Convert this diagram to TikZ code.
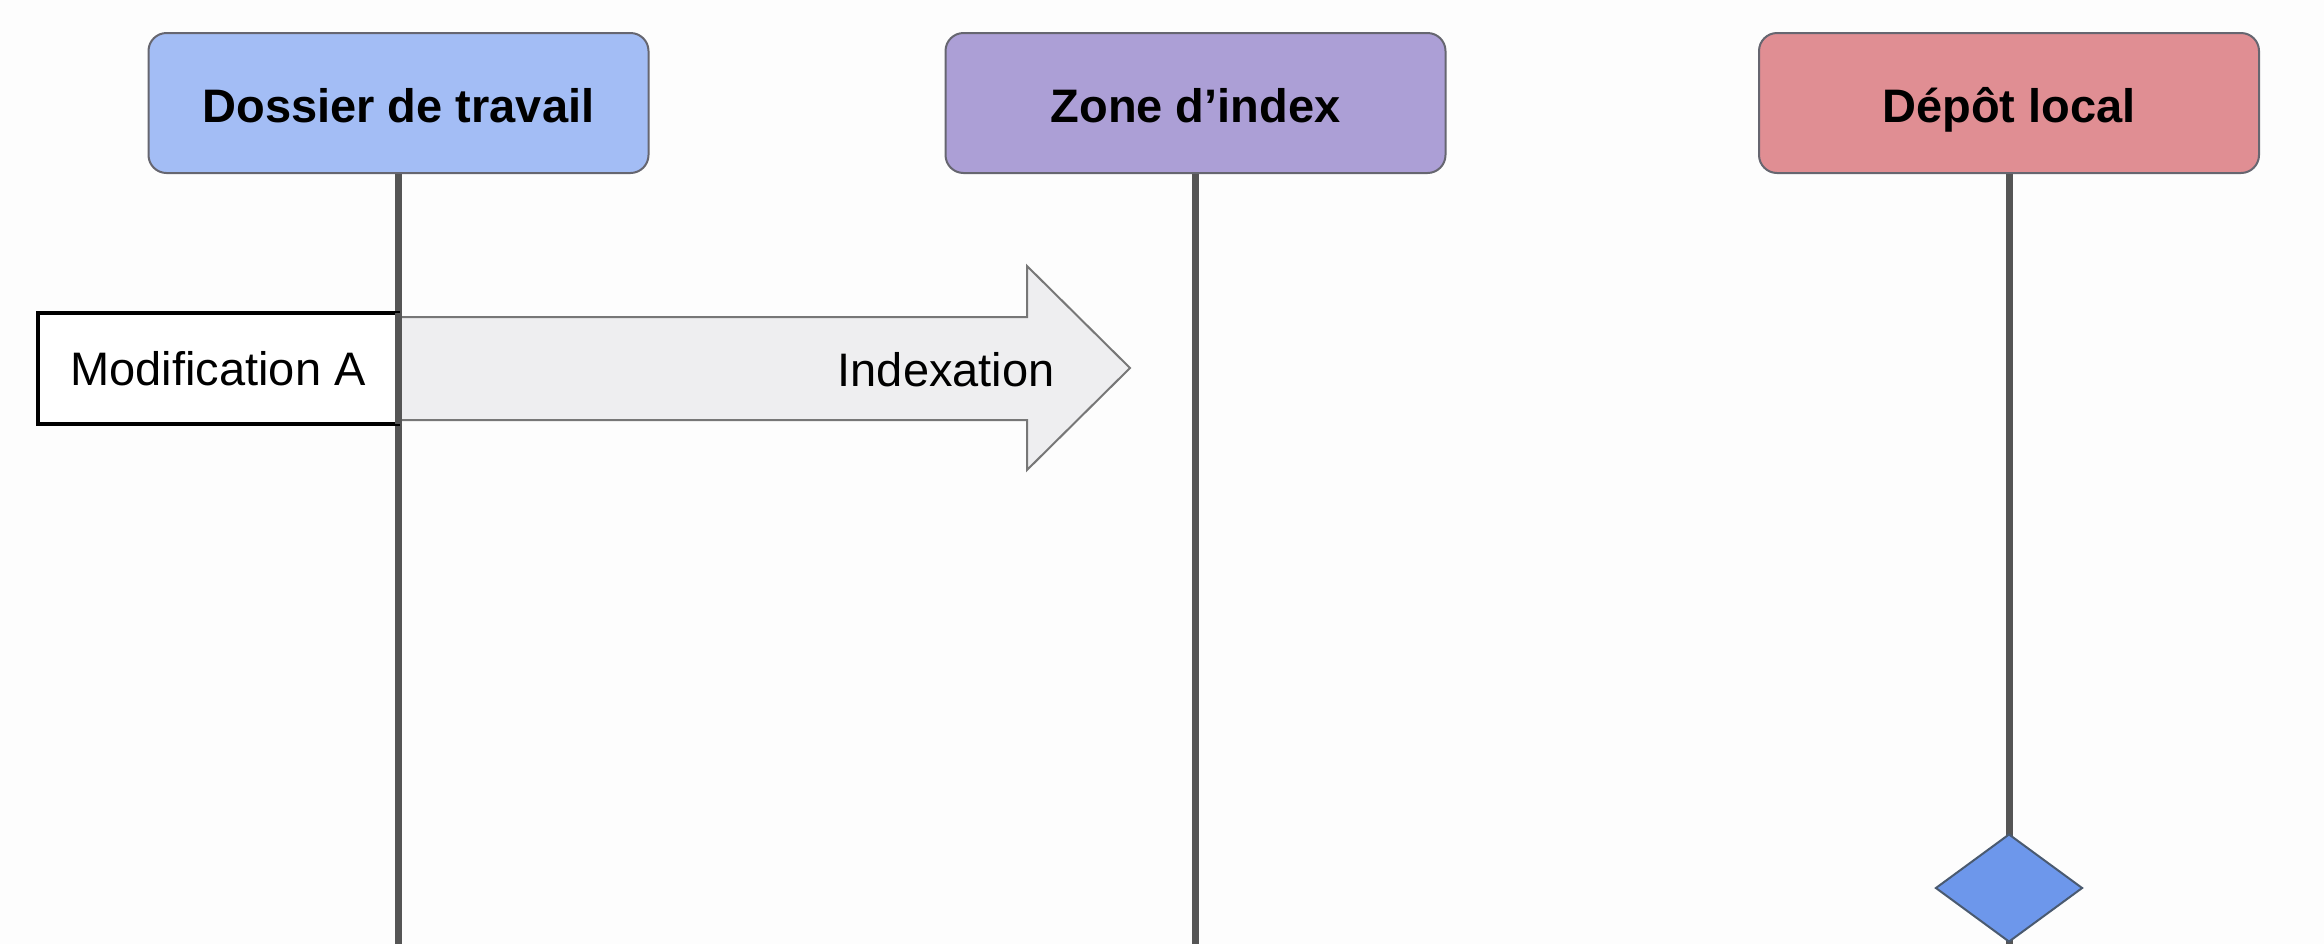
\documentclass[tikz,border=0pt]{standalone}
\usepackage{fontspec}
\setmainfont{Liberation Sans}
\usetikzlibrary{shapes.geometric}
\definecolor{bgc}{HTML}{FDFDFD}
\definecolor{lifec}{HTML}{555555}
\definecolor{hdrborder}{HTML}{666670}
\definecolor{blueh}{HTML}{A3BDF5}
\definecolor{purpleh}{HTML}{AC9FD6}
\definecolor{pinkh}{HTML}{E08E93}
\definecolor{arrowfill}{HTML}{EEEEF0}
\definecolor{arrowborder}{HTML}{777777}
\definecolor{diamfill}{HTML}{6D97EB}
\definecolor{diamborder}{HTML}{4A5A70}
\tikzset{
  header/.style={draw=hdrborder, line width=1pt, rounded corners=9pt,
    minimum width=250pt, minimum height=70pt, inner sep=0pt,
    text height=22pt, text depth=3pt,
    font=\fontsize{23.5}{28}\selectfont\bfseries},
  lifeline/.style={draw=lifec, line width=3.5pt},
  modbox/.style={draw=black, line width=2pt, fill=white,
    minimum width=180pt, minimum height=55.5pt, inner sep=0pt,
    font=\fontsize{23.5}{28}\selectfont},
  plainlabel/.style={inner sep=0pt, font=\fontsize{23.5}{28}\selectfont},
  marker/.style={diamond, draw=diamborder, line width=1pt, fill=diamfill,
    minimum width=73.5pt, minimum height=54pt, inner sep=0pt, aspect=1.36}
}
\begin{document}
\begin{tikzpicture}[x=0.5pt, y=-0.5pt]
  \fill[bgc] (0,0) rectangle (2324,944);
  \useasboundingbox (0,0) rectangle (2324,944);

  \node[header, fill=blueh] (wd) at (398.5,103) {Dossier de travail};
  \node[header, fill=purpleh] (idx) at (1195.5,103) {Zone d’index};
  \node[header, fill=pinkh] (repo) at (2009,103) {Dépôt local};

  \coordinate (wdend) at (398.5,944);
  \coordinate (idxend) at (1195.5,944);
  \coordinate (repoend) at (2009,944);

  \draw[lifeline] (wd.south) -- (wdend);
  \draw[lifeline] (idx.south) -- (idxend);
  \draw[lifeline] (repo.south) -- (repoend);

  % big arrow
  \draw[draw=arrowborder, line width=1pt, fill=arrowfill, line join=miter]
    (398,317) -- (1027,317) -- (1027,266) -- (1130,368) -- (1027,470)
    -- (1027,420) -- (398,420) -- cycle;
  \node[plainlabel, anchor=base east] (idxlabel) at (1055,386) {Indexation};

  \node[modbox] (moda) at (218,368.5) {Modification A};
  \draw[lifeline] (398.5,313) -- (398.5,424);

  \node[marker] (commit) at (2009,888) {};
\end{tikzpicture}
\end{document}
